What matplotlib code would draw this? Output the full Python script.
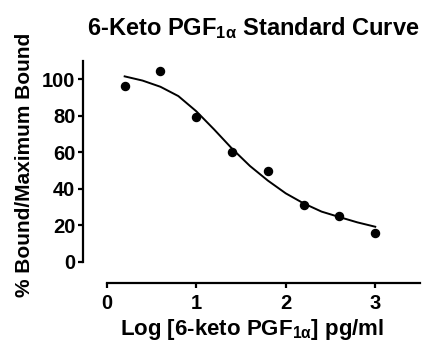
import matplotlib
matplotlib.use("Agg")
import matplotlib.pyplot as plt

# standard points (log concentration vs % bound)
log_conc = [0.2, 0.6, 1.0, 1.4, 1.8, 2.2, 2.6, 3.0]
pct_bound = [96.5, 104.6, 79.2, 60.1, 49.6, 31.1, 25.1, 15.6]

# fitted curve
curve_x = [0.2, 0.4, 0.6, 0.8, 1.0, 1.2, 1.4, 1.6, 1.8, 2.0, 2.2, 2.4, 2.6, 2.8, 3.0]
curve_y = [101.6, 99.3, 95.9, 90.8, 82.5, 72.5, 62.0, 52.5, 44.5, 37.5, 32.0, 27.5, 24.5, 21.6, 19.2]

x_ticks = [0, 1, 2, 3]
y_ticks = [0, 20, 40, 60, 80, 100]

plt.rcParams['font.family'] = ['Liberation Sans', 'DejaVu Sans']
plt.rcParams['font.weight'] = 'bold'
plt.rcParams['mathtext.fontset'] = 'custom'
plt.rcParams['mathtext.rm'] = 'Liberation Sans:bold'
plt.rcParams['mathtext.it'] = 'Liberation Sans:bold'
plt.rcParams['mathtext.bf'] = 'Liberation Sans:bold'

fig = plt.figure(figsize=(4.29, 3.45), dpi=100)
ax = fig.add_axes([0.1942, 0.1788, 0.7848, 0.6453])

ax.plot(curve_x, curve_y, color='black', lw=1.4)
ax.plot(log_conc, pct_bound, 'o', color='black', ms=5.8)

ax.set_xlim(-0.262, 3.5)
ax.set_ylim(-11.8, 110.2)
ax.spines['top'].set_visible(False)
ax.spines['right'].set_visible(False)
ax.spines['left'].set_bounds(0, 110.2)
ax.spines['bottom'].set_bounds(0, 3.5)
for s in ['left', 'bottom']:
    ax.spines[s].set_linewidth(1.6)

ax.set_xticks(x_ticks)
ax.set_yticks(y_ticks)
ax.tick_params(width=1.6, length=3.8, labelsize=14.5, pad=2)
ax.tick_params(axis='x', pad=4)
for lab in ax.get_xticklabels() + ax.get_yticklabels():
    lab.set_fontweight('bold')

ax.set_xlabel(r"Log [6-keto PGF$_{1\alpha}$] pg/ml", fontsize=16, fontweight='bold', labelpad=3)
ax.set_ylabel("% Bound/Maximum Bound", fontsize=15, fontweight='bold')
ax.yaxis.set_label_coords(-0.145, 0.531)
fig.text(0.59, 0.918, r"6-Keto PGF$_{1\alpha}$ Standard Curve", fontsize=17,
         fontweight='bold', ha='center', va='center')

fig.savefig("out.png", dpi=100)
